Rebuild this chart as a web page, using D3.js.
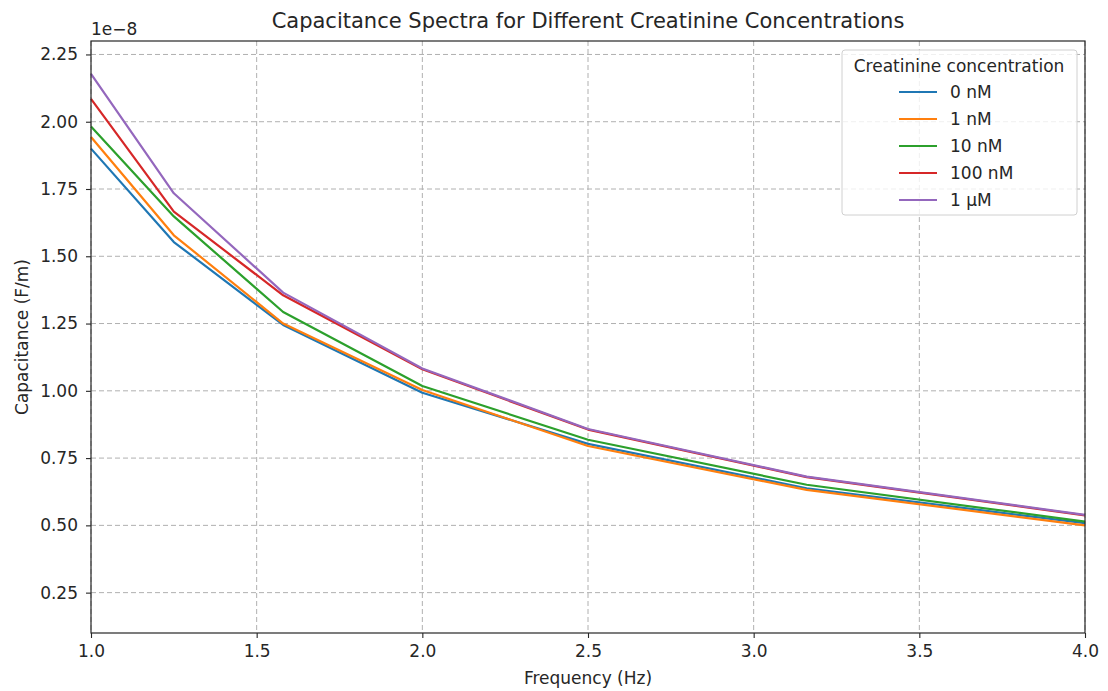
<!DOCTYPE html>
<html>
<head>
<meta charset="utf-8">
<script src="https://cdn.jsdelivr.net/npm/d3@7"></script>
<style>
  body { margin: 0; background: #fff; }
  text { font-family: "DejaVu Sans", sans-serif; fill: #262626; }
</style>
</head>
<body>
<div id="chart"></div>
<script>
// Data (capacitance in F/m)
var frequency = [1.0, 1.25, 1.58, 2.0, 2.5, 3.16, 4.0];
var concentrations = ["0 nM", "1 nM", "10 nM", "100 nM", "1 \u00b5M"];
var cap0nM   = [1.900e-8, 1.553e-8, 1.245e-8, 0.993e-8, 0.803e-8, 0.638e-8, 0.508e-8];
var cap1nM   = [1.943e-8, 1.578e-8, 1.250e-8, 1.003e-8, 0.795e-8, 0.632e-8, 0.500e-8];
var cap10nM  = [1.982e-8, 1.648e-8, 1.293e-8, 1.018e-8, 0.818e-8, 0.651e-8, 0.514e-8];
var cap100nM = [2.085e-8, 1.666e-8, 1.355e-8, 1.080e-8, 0.856e-8, 0.679e-8, 0.537e-8];
var cap1uM   = [2.178e-8, 1.734e-8, 1.365e-8, 1.083e-8, 0.858e-8, 0.681e-8, 0.539e-8];
var xTicks = [1.0, 1.5, 2.0, 2.5, 3.0, 3.5, 4.0];
var yTicks = [0.25e-8, 0.5e-8, 0.75e-8, 1.0e-8, 1.25e-8, 1.5e-8, 1.75e-8, 2.0e-8, 2.25e-8];

var series = [cap0nM, cap1nM, cap10nM, cap100nM, cap1uM];
var colors = ["#1f77b4", "#ff7f0e", "#2ca02c", "#d62728", "#9467bd"];

// Layout
var width = 1108, height = 691;
var margin = {top: 41, right: 23, bottom: 58, left: 91};
var innerW = width - margin.left - margin.right;
var innerH = height - margin.top - margin.bottom;
var fontSize = "17px";

var svg = d3.select("#chart").append("svg")
    .attr("width", width)
    .attr("height", height);

var g = svg.append("g")
    .attr("transform", "translate(" + margin.left + "," + margin.top + ")");

var x = d3.scaleLinear().domain([1.0, 4.0]).range([0, innerW]);
var y = d3.scaleLinear().domain([0.1e-8, 2.3e-8]).range([innerH, 0]);

// grid
g.append("g").selectAll("line.vgrid")
    .data(xTicks)
    .enter().append("line")
    .attr("x1", d => x(d)).attr("x2", d => x(d))
    .attr("y1", 0).attr("y2", innerH)
    .attr("stroke", "#b0b0b0")
    .attr("stroke-width", 1)
    .attr("stroke-dasharray", "5,3");

g.append("g").selectAll("line.hgrid")
    .data(yTicks)
    .enter().append("line")
    .attr("x1", 0).attr("x2", innerW)
    .attr("y1", d => y(d)).attr("y2", d => y(d))
    .attr("stroke", "#b0b0b0")
    .attr("stroke-width", 1)
    .attr("stroke-dasharray", "5,3");

// lines
var line = d3.line()
    .x((d, i) => x(frequency[i]))
    .y(d => y(d));

g.selectAll("path.series")
    .data(series)
    .enter().append("path")
    .attr("class", "series")
    .attr("fill", "none")
    .attr("stroke", (d, i) => colors[i])
    .attr("stroke-width", 2.2)
    .attr("stroke-linejoin", "round")
    .attr("d", line);

// axes
var xAxis = g.append("g")
    .attr("transform", "translate(0," + innerH + ")")
    .call(d3.axisBottom(x).tickValues(xTicks).tickFormat(d3.format(".1f")).tickSize(5).tickPadding(7));

var yAxis = g.append("g")
    .call(d3.axisLeft(y).tickValues(yTicks).tickFormat(d => (d / 1e-8).toFixed(2)).tickSize(5).tickPadding(8));

[xAxis, yAxis].forEach(function(a) {
  a.select(".domain").remove();
  a.selectAll("line").attr("stroke", "#262626").attr("stroke-width", 1.1);
  a.selectAll("text").style("font-size", fontSize).attr("fill", "#262626");
});

// frame
g.append("rect")
    .attr("width", innerW).attr("height", innerH)
    .attr("fill", "none")
    .attr("stroke", "#262626")
    .attr("stroke-width", 1.2);

// offset text
svg.append("text")
    .attr("x", margin.left)
    .attr("y", 35)
    .style("font-size", fontSize)
    .text("1e\u22128");

// title
svg.append("text")
    .attr("x", margin.left + innerW / 2)
    .attr("y", 28)
    .attr("text-anchor", "middle")
    .style("font-size", "21px")
    .text("Capacitance Spectra for Different Creatinine Concentrations");

// axis labels
svg.append("text")
    .attr("x", margin.left + innerW / 2)
    .attr("y", 684)
    .attr("text-anchor", "middle")
    .style("font-size", fontSize)
    .text("Frequency (Hz)");

svg.append("text")
    .attr("transform", "translate(28," + (margin.top + innerH / 2) + ") rotate(-90)")
    .attr("text-anchor", "middle")
    .style("font-size", fontSize)
    .text("Capacitance (F/m)");

// legend
var legend = svg.append("g").attr("transform", "translate(842,50)");
legend.append("rect")
    .attr("width", 235).attr("height", 165)
    .attr("rx", 3)
    .attr("fill", "#fff").attr("fill-opacity", 0.8)
    .attr("stroke", "#d0d0d0");

legend.append("text")
    .attr("x", 117)
    .attr("y", 22)
    .attr("text-anchor", "middle")
    .style("font-size", fontSize)
    .text("Creatinine concentration");

var items = legend.selectAll("g.item")
    .data(concentrations)
    .enter().append("g")
    .attr("transform", (d, i) => "translate(0," + (42 + i * 27) + ")");

items.append("line")
    .attr("x1", 57).attr("x2", 95)
    .attr("stroke", (d, i) => colors[i])
    .attr("stroke-width", 2.2);

items.append("text")
    .attr("x", 108)
    .attr("dy", "0.35em")
    .style("font-size", fontSize)
    .text(d => d);
</script>
</body>
</html>
